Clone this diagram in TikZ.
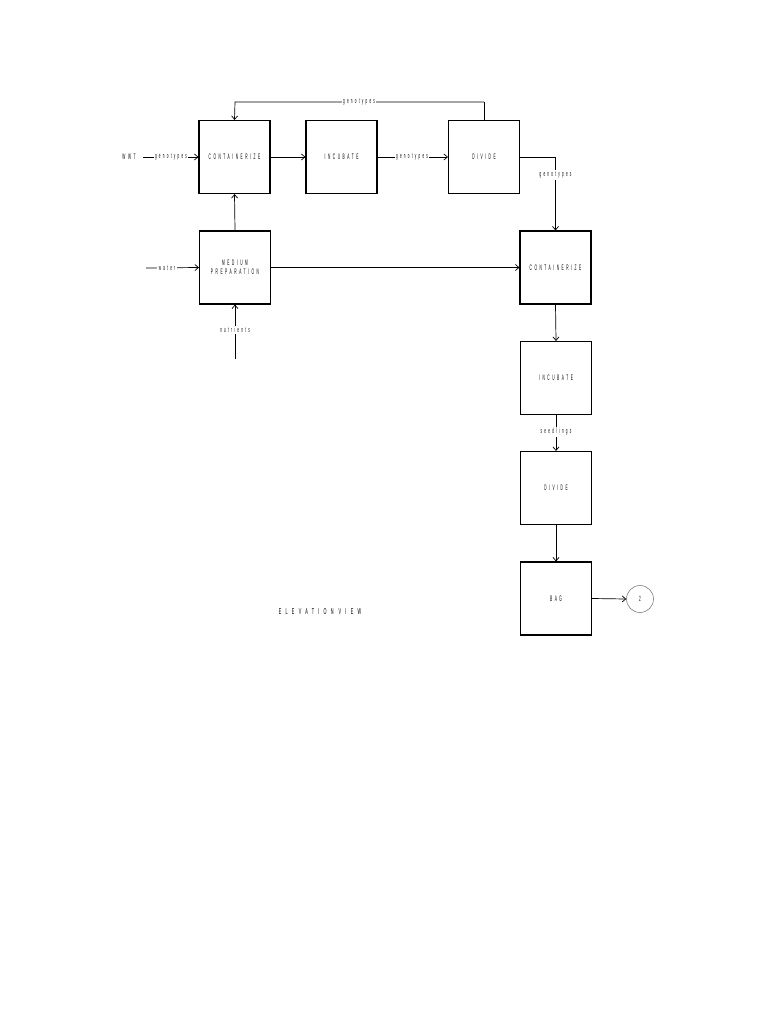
\documentclass[tikz,border=0pt]{standalone}
\usepackage{fontspec}
\setmainfont{Liberation Sans}
\newfontfamily\boxfont{Liberation Sans}[FakeStretch=0.4, LetterSpace=32]
\newfontfamily\titlefont{Liberation Sans}[FakeStretch=0.45, LetterSpace=50]
\newfontfamily\lblfont{Liberation Sans}[FakeStretch=0.4, LetterSpace=30]
\usetikzlibrary{arrows.meta}
\begin{document}
\begin{tikzpicture}[x=1pt,y=-1pt,
  stage/.style={draw, line width=1.1pt, minimum width=71pt, minimum height=73pt, inner sep=0pt,
    font=\boxfont\fontsize{8}{9}\selectfont, align=center},
  lbl/.style={fill=white, inner sep=1.5pt, font=\lblfont\fontsize{7.5}{8}\selectfont},
  flow/.style={line width=0.7pt, -{Straight Barb[length=3.5pt,width=6pt]}},
  plain/.style={line width=0.7pt}]
\useasboundingbox (0,0) rectangle (768,1024);
% stages
\node[stage] (cont1) at (234.5,157) {CONTAINERIZE};
\node[stage] (inc1) at (341.5,157) {INCUBATE};
\node[stage] (div1) at (484,157) {DIVIDE};
\node[stage] (med) at (235,267.5) {MEDIUM\\PREPARATION};
\node[stage] (cont2) at (555.5,267.5) {CONTAINERIZE};
\node[stage] (inc2) at (556,378) {INCUBATE};
\node[stage] (div2) at (556,488) {DIVIDE};
\node[stage] (bag) at (556,598.5) {BAG};
\node[draw=gray, circle, minimum size=27pt, inner sep=0pt, line width=0.6pt,
  font=\lblfont\fontsize{7.5}{8}\selectfont] (end) at (640,599) {2};
% inputs
\node[font=\boxfont\fontsize{8}{9}\selectfont] (wwt) at (129,157) {WWT};
\coordinate (wwtS) at (143,157);
\coordinate (watS) at (146,268);
\coordinate (nutS) at (235,359);
\coordinate (fbR) at (484,102);
\coordinate (fbL) at (235,102);
\coordinate (dvR) at (555.5,157);
% connectors
\draw[flow] (fbR) -- (fbL) -- (cont1.north);
\draw[plain] (div1.north) -- (fbR);
\node[lbl] (lfb) at (359,102) {genotypes};
\draw[flow] (wwtS) -- (cont1.west);
\node[lbl] (lwwt) at (171,157) {genotypes};
\draw[flow] (cont1.east) -- (inc1.west);
\draw[flow] (inc1.east) -- (div1.west);
\node[lbl] (linc) at (412,157) {genotypes};
\draw[flow] (div1.east) -- (dvR) -- (cont2.north);
\node[lbl] (ldv) at (555.5,175) {genotypes};
\draw[flow] (med.north) -- (cont1.south);
\draw[flow] (watS) -- (med.west);
\node[lbl] (lwat) at (167,268) {water};
\draw[flow] (nutS) -- (med.south);
\node[lbl] (lnut) at (235,330) {nutrients};
\draw[flow] (med.east) -- (cont2.west);
\draw[flow] (cont2.south) -- (inc2.north);
\draw[flow] (inc2.south) -- (div2.north);
\node[lbl] (lseed) at (556,432) {seedlings};
\draw[flow] (div2.south) -- (bag.north);
\draw[flow] (bag.east) -- (end.west);
\node[font=\titlefont\fontsize{8.5}{9}\selectfont] (title) at (320,612) {ELEVATION\hspace{5pt}VIEW};
\end{tikzpicture}
\end{document}
